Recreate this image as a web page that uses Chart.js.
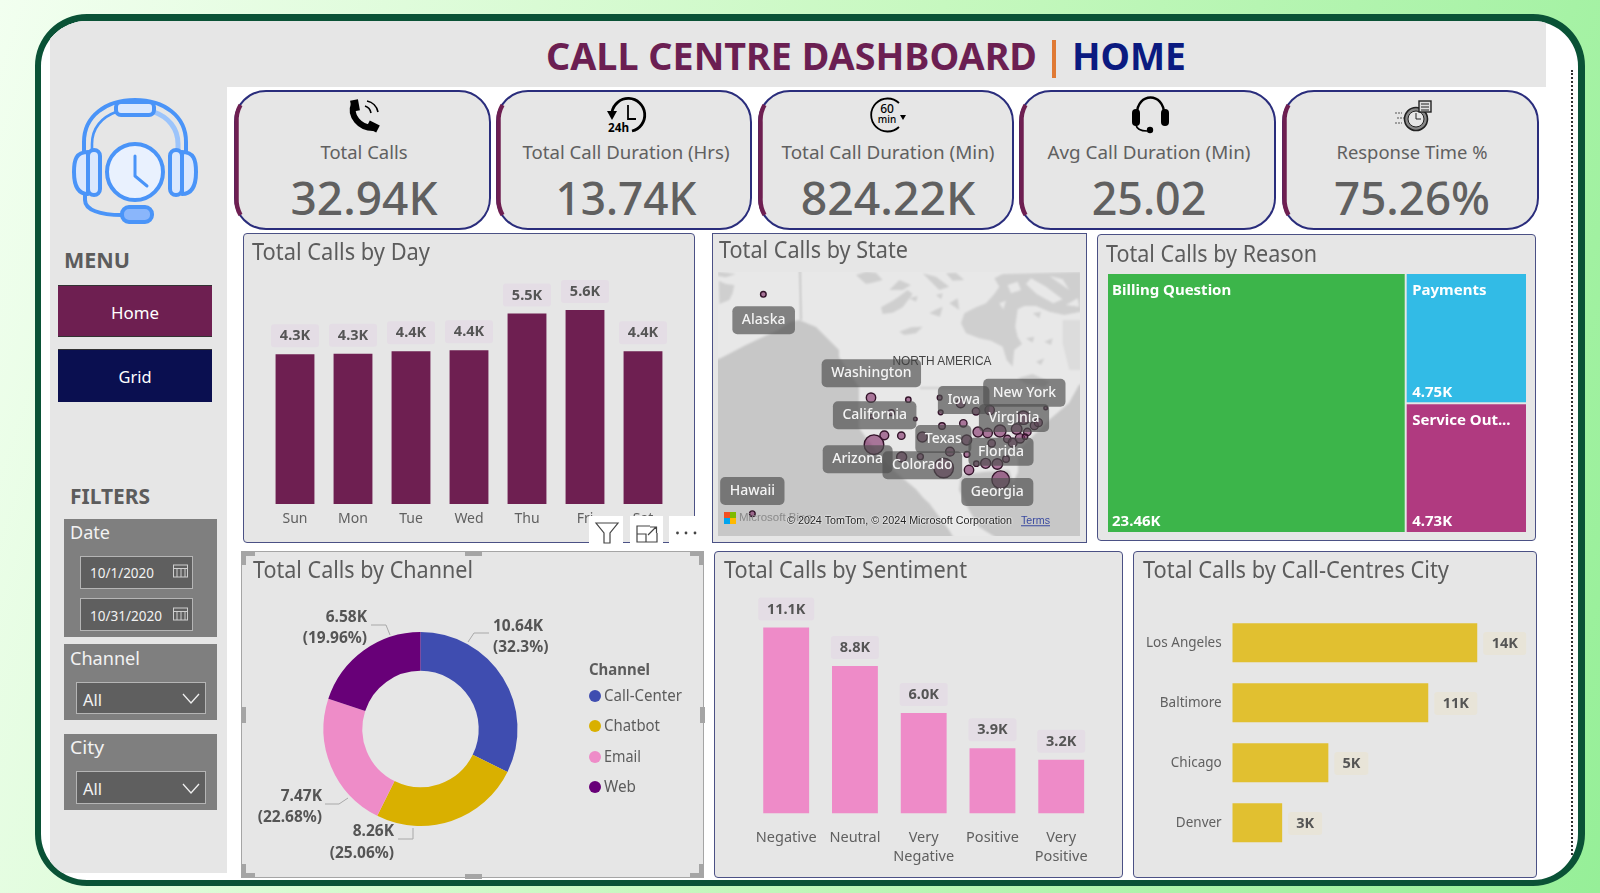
<!DOCTYPE html>
<html><head><meta charset="utf-8">
<script src="https://cdn.jsdelivr.net/npm/chart.js@4"></script>
<style>
html,body{margin:0;padding:0;width:1600px;height:893px;overflow:hidden}
body{background:linear-gradient(108deg,#f2fff0 0%,#c6f8bf 50%,#96ef98 100%);font-family:"Noto Sans",sans-serif}
#frame{position:absolute;left:35px;top:14px;width:1550px;height:872px;box-sizing:border-box;border:solid #0a5236;border-width:7px 7px 6px 6px;border-radius:52px;background:#fff;overflow:hidden}
#stage{position:absolute;left:-41px;top:-21px;width:1600px;height:893px}
.box{position:absolute;box-sizing:border-box}
.t{position:absolute;white-space:nowrap;line-height:1}
canvas{position:absolute}
svg{position:absolute;left:0;top:0}
</style></head><body>
<div id="frame"><div id="stage"></div></div>
<script>
/* ---------- data ---------- */
const kpiLabels=['Total Calls','Total Call Duration (Hrs)','Total Call Duration (Min)','Avg Call Duration (Min)','Response Time %'];
const kpiValues=['32.94K','13.74K','824.22K','25.02','75.26%'];
const dayCats=['Sun','Mon','Tue','Wed','Thu','Fri','Sat'];
const dayCalls=[4.32,4.34,4.41,4.44,5.5,5.6,4.41];
const reasonCats=['Billing Question','Payments','Service Out...'];
const reasonCalls=[23.46,4.75,4.73];
const channelCats=['Call-Center','Chatbot','Email','Web'];
const channelCalls=[10.64,8.26,7.47,6.58];
const channelShare=[32.3,25.06,22.68,19.96];
const sentimentCats=['Negative','Neutral','Very Negative','Positive','Very Positive'];
const sentimentCalls=[11.1,8.8,6.0,3.9,3.2];
const cityCats=['Los Angeles','Baltimore','Chicago','Denver'];
const cityCalls=[14.0,11.2,5.49,2.85];
/* map grid positions of the state bubbles and their sizes */
const bubbleX=[190,157,513,625,719,722,574,515,646,782,828,869,970,1037,1003,1015,790,726,553,604,667,522,800,834,863,900,950,982,922,875,938,960,975,750,801,605,661,731,918,829,857,892,807,902];
const bubbleY=[193,851,503,509,503,547,548,560,567,520,544,540,563,534,587,578,580,588,616,617,621,644,630,606,609,603,597,606,627,640,638,625,620,665,673,681,680,714,687,701,700,702,720,749];
const bubbleR=[2.8,2.8,4.7,2.7,2.4,2.4,3,2,1.8,4.4,3.7,4.7,6.7,1.8,4,4,3.7,3.3,4.4,3.7,5,9.8,5,5,4.7,6,5.3,3.7,3.7,3.7,4.4,4.7,2.7,4.4,3,5,3,9.8,3.3,2.7,5,5.3,4.7,8.8];
const stateNames=['Alaska','Washington','California','Iowa','New York','Virginia','Texas','Florida','Arizona','Colorado','Hawaii','Georgia'];
const stateX=[191,514,524,791,973,942,730,903,473,667,157,892];
const stateY=[271,430,556,510,488,564,627,665,688,706,783,786];

const FONT='"Noto Sans",sans-serif';
const TXT='#5c5c5c';
const stage=document.getElementById('stage');
Chart.defaults.font.family=FONT;
Chart.defaults.animation=false;
Chart.defaults.responsive=false;
Chart.defaults.plugins.legend.display=false;
Chart.defaults.plugins.tooltip.enabled=false;

function box(x,y,w,h,css){const d=document.createElement('div');d.className='box';
  d.style.cssText=`left:${x}px;top:${y}px;width:${w}px;height:${h}px;${css||''}`;stage.appendChild(d);return d}
function T(str,x,cy,size,o){o=o||{};const s=document.createElement('span');s.className='t';s.textContent=str;
  s.style.cssText=`left:${x}px;top:${cy-1.2}px;font-size:${size}px;font-weight:${o.weight||400};color:${o.color||TXT};font-family:${o.font||FONT};${o.css||''}`;
  stage.appendChild(s);
  const a=s.getBoundingClientRect().width,k=o.w?o.w/a:1,al=o.align||'l';
  s.style.transformOrigin=al=='c'?'center':'left center';
  s.style.transform=(al=='c'?'translate(-50%,-50%)':'translateY(-50%)')+` scaleX(${k})`;return s}
function svgLayer(inner){const n=document.createElementNS('http://www.w3.org/2000/svg','svg');n.setAttribute('width',1600);n.setAttribute('height',893);n.setAttribute('viewBox','0 0 1600 893');n.innerHTML=inner;stage.appendChild(n);return n}
function canvasAt(x,y,w,h){const c=document.createElement('canvas');c.width=w;c.height=h;c.style.left=x+'px';c.style.top=y+'px';c.style.width=w+'px';c.style.height=h+'px';stage.appendChild(c);return c}
function pill(ctx,cx,cy,w,h,fill,r){ctx.fillStyle=fill;ctx.beginPath();ctx.roundRect(cx-w/2,cy-h/2,w,h,r);ctx.fill()}

/* ---------- shell ---------- */
box(50,21,1496,66,'background:#e6e6e6');
box(50,21,177,852,'background:#e6e6e6');
const DOTS='border:0 dotted #333;';
box(45,20,1490,1,DOTS+'border-top-width:1.5px');
box(1571,70,1,785,DOTS+'border-left-width:2px');

T('CALL CENTRE DASHBOARD',546,56,38,{weight:700,color:'#6b1f52',w:491});
box(1052,40,4,38,'background:#e07a35');
T('HOME',1072,56,38,{weight:700,color:'#0b1a80',w:114});

/* KPI cards */
const cardX=[234,496,758,1019,1282],cardW=[257,256,256,257,257];
const kpiLabelW=[87,207,213,203,151],kpiValueW=[147,141,174.500,114.500,156];
let cardEdges='';
kpiLabels.forEach((l,i)=>{
  box(cardX[i],90,cardW[i],140,'background:#e6e6e6;border:2px solid #2a2d7c;border-radius:32px');
  const x=cardX[i];
  cardEdges+=`<path d="M${x+6.5} 105 A31 31 0 0 0 ${x+2.5} 122 V198 A31 31 0 0 0 ${x+6.5} 215" fill="none" stroke="#6e1f51" stroke-width="4.5"/>`;
  const c=x+cardW[i]/2+1.5;
  T(l,c,153,18,{align:'c',w:kpiLabelW[i],color:'#606060'});
  T(kpiValues[i],c,198,46,{align:'c',w:kpiValueW[i],color:'#606060',weight:500});
});
svgLayer(cardEdges);

/* sidebar */
T('MENU',64,260,22,{weight:700,w:66});
box(58,285,154,52,'background:#6e1f51;border-top:1px solid #333;border-bottom:1px solid #333');
T('Home',135,313,17,{align:'c',color:'#fff',w:48});
box(58,349,154,53,'background:#0a0f50;border-top:1px solid #333');
T('Grid',135,377,17,{align:'c',color:'#fff',w:33});
T('FILTERS',70,496,22,{weight:700,w:80});
const inp='background:#5f5f5f;border:1px solid #b5b5b5;';
box(64,519,153,118,'background:#7f7f7f');
T('Date',70,533.5,18,{color:'#f2f2f2',w:40});
box(80,556,113,33,inp);T('10/1/2020',89.5,573,14.5,{color:'#f2f2f2',w:64});
box(80,598,113,33,inp);T('10/31/2020',89.5,616,14.5,{color:'#f2f2f2',w:72});
box(64,644,153,76,'background:#7f7f7f');
T('Channel',70,659,18,{color:'#f2f2f2',w:70});
box(76,682,130,32,inp);T('All',83,701,16,{color:'#f2f2f2',w:19});
box(64,734,153,76,'background:#7f7f7f');
T('City',70,748,18,{color:'#f2f2f2',w:34});
box(76,771,130,33,inp);T('All',83,790,16,{color:'#f2f2f2',w:19});

/* panels */
const pane='background:#e6e6e6;border:1px solid #4b5185;border-radius:4px;';
box(243,233,452,310,pane);
box(712,233,375,310,pane+'border-radius:0');
box(1097,234,439,307,pane);
box(241,551,463,327,'background:#e6e6e6;');
box(714,551,409,327,pane);
box(1133,551,404,327,pane);

/* icons, logo, map background */
const ink='#000';
svgLayer(`
<!-- logo -->
<g fill="none" stroke="#4a94f8" stroke-width="4" stroke-linecap="round" stroke-linejoin="round">
<path d="M84 152 V142 C84 116 106 100 135 100 C164 100 186 116 186 142 V152"/>
<path d="M92 152 V144 C92 128 102 117 116 112" stroke-width="2.6"/>
<path d="M178 152 V144 C178 128 168 117 154 112" stroke="#9cc4fb" stroke-width="5"/>
<rect x="116" y="102" width="38" height="13" rx="5" fill="#dbe8fd"/>
<path d="M88 152 C76 152 74 160 74 172 C74 186 78 194 88 194 Z" fill="#dbe8fd"/>
<rect x="88" y="150" width="12" height="45" rx="6" fill="#dbe8fd"/>
<path d="M182 152 C194 152 196 160 196 172 C196 186 192 194 182 194 Z" fill="#dbe8fd"/>
<rect x="170" y="150" width="12" height="45" rx="6" fill="#dbe8fd"/>
<circle cx="135" cy="172" r="28" fill="#e9f1fe"/>
<path d="M135 156 V176 L147 186" stroke-width="3"/>
<path d="M85 195 V200 C85 210 100 215 122 215"/>
<rect x="122" y="207" width="30" height="15" rx="7" fill="#8ab6fb"/>
</g>
<!-- phone -->
<g fill="none" stroke="${ink}"><path d="M354 104 C349 116 360 128 373 128" stroke-width="6"/>
<path d="M354 100 L356 111 M368 124 L378 129" stroke-width="8"/>
<path d="M365 106 A9 9 0 0 1 371 113 M367 101 A14 14 0 0 1 378 112" stroke-width="1.6"/></g>
<!-- 24h -->
<g fill="none" stroke="${ink}"><path d="M612 112 A16.5 16.5 0 1 1 632 131" stroke-width="2.8"/><path d="M628 105 V119 H636" stroke-width="1.8"/></g>
<path d="M607 111 H617 L612 120 Z" fill="${ink}"/>
<text x="608" y="132" font-size="13" font-weight="700" font-family="Noto Sans" textLength="21" lengthAdjust="spacingAndGlyphs">24h</text>
<!-- 60 min -->
<path d="M899 103 A16.5 16.5 0 1 0 899 127" fill="none" stroke="${ink}" stroke-width="1.8"/><path d="M900 115 L906 115 L903 120 Z" fill="${ink}"/>
<text x="887" y="113" text-anchor="middle" font-size="12" font-family="Noto Sans" font-weight="500">60</text>
<text x="887" y="123" text-anchor="middle" font-size="10" font-family="Noto Sans" font-weight="500">min</text>
<!-- headset -->
<path d="M1137 114 C1137 92 1164 92 1164 114" fill="none" stroke="${ink}" stroke-width="2.4"/>
<rect x="1132" y="109" width="8" height="17" rx="4"/><rect x="1161" y="109" width="8" height="17" rx="4"/>
<path d="M1136 125 C1137 130 1141 131 1147 131" fill="none" stroke="${ink}" stroke-width="1.6"/><circle cx="1150" cy="130" r="3.2"/>
<!-- stopwatch -->
<circle cx="1416" cy="119" r="11.5" fill="#888" stroke="#222" stroke-width="1.6"/><circle cx="1416" cy="119" r="8" fill="#e6e6e6" stroke="#222"/>
<path d="M1416 113 V119 H1421" fill="none" stroke="#222"/>
<rect x="1419" y="101" width="12" height="11" fill="#ddd" stroke="#222" stroke-width="1.4"/><path d="M1421 104 H1429 M1421 107 H1429 M1421 110 H1429" stroke="#222"/>
<path d="M1395 113 H1402 M1397 118 H1404 M1395 123 H1402" stroke="#555" stroke-dasharray="2 1"/>
<!-- calendars -->
<g fill="none" stroke="#cfcfcf"><rect x="173.500" y="565" width="14" height="12"/><rect x="173.500" y="608" width="14" height="12"/>
<path d="M173 568.500 H188 M173 611.500 H188 M177 569 V577 M181 569 V577 M185 569 V577 M177 612 V620 M181 612 V620 M185 612 V620"/></g>
<g fill="none" stroke="#eee" stroke-width="1.3"><path d="M183 694 L191 703 L199 694 M183 784 L191 793 L199 784"/></g>
<!-- map -->
<defs><clipPath id="mc"><rect x="718" y="272" width="362" height="264"/></clipPath><filter id="bl" x="-5%" y="-5%" width="110%" height="110%"><feGaussianBlur stdDeviation="1"/></filter></defs>
<g clip-path="url(#mc)"><rect x="718" y="272" width="362" height="264" fill="#c7c7c7"/>
<g filter="url(#bl)">
<path fill="#e8e8e8" d="M710 264 H1090 V380 L1079 385 L1069 403 L1049 420 L1036 433 L1018 450 L1018 472 L1013 483 L1009 470 L983 472 L961 475 L959 490 L969 510 L979 527 L1000 540 H955 L949 530 L929 503 L906 483 L886 463 L873 447 L859 428 L859 387 L839 357 L839 350 L826 337 L816 327 L799 320 L790 322 L778 330 L763 337 L746 345 L721 358 L710 362 Z"/>
<g transform="translate(716,270) scale(.3333)" fill="#cfcfcf">
<path d="M735 160 L745 130 L780 112 L810 100 L835 72 L850 50 L835 25 L860 12 L1095 5 L1095 125 L1045 135 L1000 125 L960 108 L925 108 L905 118 L898 170 L905 200 L918 222 L895 240 L890 290 L872 270 L860 230 L825 212 L790 205 L750 190 Z"/>
<path d="M8 32 L30 42 L55 45 L50 70 L40 90 L10 102 Z M5 5 L60 12 L30 22 L5 18 Z"/>
<path d="M500 132 L530 128 L560 112 L590 72 L575 60 L548 80 L530 92 L495 112 Z M420 15 L450 5 L480 8 L500 30 L470 38 L450 42 Z M640 130 L662 118 L680 110 L672 140 Z M550 185 L585 172 L620 170 L600 190 L565 195 Z M620 10 L660 20 L700 50 L670 60 L640 30 Z M700 100 L725 85 L730 120 Z M520 60 L550 30 L585 45 L560 60 Z M580 85 L605 78 L600 95 Z M660 75 L680 70 L676 88 Z"/>
<path d="M905 325 L950 312 L1000 335 L985 352 L930 342 Z M690 10 L720 8 L745 30 L710 32 Z M950 130 L975 125 L970 145 Z M930 205 L955 200 L950 218 Z M985 215 L1010 205 L1005 225 Z M960 275 L985 265 L975 285 Z"/>
<path fill="#e8e8e8" d="M945 25 L990 50 L1040 88 L1012 100 L962 72 L930 42 Z M850 100 L870 92 L862 118 Z M960 8 L1000 18 L1060 60 L1040 28 Z M875 45 L905 35 L915 60 L885 70 Z M1050 105 L1085 85 L1090 110 Z"/>
<path fill="#dcdcdc" d="M1040 150 H1095 V300 L1060 300 L1040 220 Z"/>
</g>
<path d="M800 270 L801 320" stroke="#a8a8a8" fill="none"/>
<path d="M920 388 L982 388" stroke="#b5b5b5" fill="none"/>
<path d="M891 470 L915 490 L932 510" stroke="#c8c8c8" stroke-width="2.5" fill="none"/>
</g></g>
`);

/* ---------- Chart.js charts ---------- */
function pillLabels(fmt,fill,ph,off){return{id:'pills',afterDatasetsDraw(ch){const ctx=ch.ctx;ctx.save();
  ch.getDatasetMeta(0).data.forEach((el,i)=>{const v=ch.data.datasets[0].data[i],s=fmt(v);
    ctx.font=`700 14.5px ${FONT}`;ctx.textAlign='center';ctx.textBaseline='middle';
    let cx,cy,w;
    if(ch.options.indexAxis==='y'){w=s.length>2?43:34;cx=el.x+6+w/2;cy=el.y+.7}else{w=s.length>4?56:48;cx=el.x;cy=el.y-off}
    pill(ctx,cx,cy,w,ph,fill,3);
    ctx.fillStyle='#555';ctx.fillText(s,cx,cy+.5)});ctx.restore()}}}
function vBars(x,y,w,h,cats,vals,color,area,max,axisH,pct,tickPad,tickSize,tickCb){
  const ticks={color:'#606060',font:{size:tickSize,lineHeight:1.33},padding:tickPad,maxRotation:0,autoSkip:false};
  if(tickCb)ticks.callback=tickCb;
  new Chart(canvasAt(x,y,w,h),{type:'bar',
    data:{labels:cats,datasets:[{data:vals,backgroundColor:color,categoryPercentage:1,barPercentage:pct,borderWidth:0}]},
    options:{layout:{padding:{left:area[0]-x,right:x+w-area[1],top:area[2]-y,bottom:0}},
      scales:{y:{display:false,min:0,max},
        x:{grid:{display:false,drawTicks:false},border:{display:false},afterFit(s){s.height=axisH},ticks}}},
    plugins:[pillLabels(v=>v.toFixed(1)+'K','#e4dde5',23,18.5)]});
}
vBars(243,233,452,310,dayCats,dayCalls,'#6e1f51',[266,672,270],6.755,39,.67,5.6,14);

/* Map */
const mapCanvas=canvasAt(700,220,400,330);
new Chart(mapCanvas,{type:'bubble',
  data:{datasets:[{data:bubbleX.map((v,i)=>({x:v,y:bubbleY[i],r:bubbleR[i]})),backgroundColor:'rgba(125,40,100,.6)',borderColor:'#33142a',borderWidth:1.4}]},
  options:{layout:{padding:{left:18,right:20,top:52,bottom:14}},clip:false,
    scales:{x:{display:false,min:54,max:1140},y:{display:false,min:126,max:918,reverse:true}}},
  plugins:[{id:'states',afterDatasetsDraw(ch){const c=ch.ctx,sx=ch.scales.x,sy=ch.scales.y;c.save();
    c.font=`500 14px ${FONT}`;c.textAlign='center';c.textBaseline='middle';
    stateNames.forEach((n,i)=>{const px=sx.getPixelForValue(stateX[i]),py=sy.getPixelForValue(stateY[i]);
      const w=c.measureText(n).width+19;pill(c,px,py,w,28,'rgba(80,80,80,.68)',5);
      c.fillStyle='#f4f4f4';c.fillText(n,px,py)});c.restore()}}]});
T('NORTH AMERICA',941.7,362,12.5,{align:'c',w:99,color:'#444',font:'"Liberation Sans"'});
box(724,512,6,6,'background:#f25022');box(730,512,6,6,'background:#7fba00');box(724,518,6,6,'background:#00a4ef');box(730,518,6,6,'background:#ffb900');
T('Microsoft Bing',739,519,11.5,{color:'#8a8a8a',font:'"Liberation Sans"'});
T('© 2024 TomTom, © 2024 Microsoft Corporation',787,522,11.5,{w:225,color:'#222',font:'"Liberation Sans"',css:'text-shadow:0 0 2px #fff,0 0 2px #fff'});
T('Terms',1020.7,522,11.5,{w:29,color:'#3a4aa0',font:'"Liberation Sans"',css:'text-decoration:underline'});

/* Treemap from the reason values, through linear scales */
const reasonColors=['#3cb54a','#32bbe6','#b03a80'];
new Chart(canvasAt(1097,234,439,307),{type:'scatter',
  data:{datasets:[{data:[],pointRadius:0}]},
  options:{layout:{padding:{left:11,right:10,top:40,bottom:9}},
    scales:{x:{display:false,min:0,max:reasonCalls[0]+reasonCalls[1]+reasonCalls[2]},y:{display:false,min:0,max:reasonCalls[1]+reasonCalls[2]}}},
  plugins:[{id:'treemap',afterDatasetsDraw(ch){const c=ch.ctx,X=ch.scales.x,Y=ch.scales.y;c.save();
    const a=reasonCalls,tot=X.max,hh=Y.max;
    const cells=[[0,a[0],0,hh],[a[0],tot,a[2],hh],[a[0],tot,0,a[2]]];
    cells.forEach((q,i)=>{const l=X.getPixelForValue(q[0]),r=X.getPixelForValue(q[1]),t=Y.getPixelForValue(q[3]),b=Y.getPixelForValue(q[2]);
      const gl=i?1:0,gr=i?0:1,gt=i==2?1:0,gb=i==1?1:0,ins=i?5.5:4;
      c.fillStyle=reasonColors[i];c.fillRect(l+gl,t+gt,r-l-gl-gr,b-t-gt-gb);
      c.fillStyle='#fff';c.textBaseline='middle';c.textAlign='left';c.font=`700 15px ${FONT}`;
      c.fillText(reasonCats[i],l+ins+gl,t+gt+16.5);
      c.fillText(a[i].toFixed(2)+'K',l+ins+gl,b-gb-10);});
    c.restore()}}]});

/* Donut */
const channelColors=['#3f4db0','#d9b000','#ee8cc8','#680078'];
const calloutStyle=[
 {pts:[[468,642],[474,633],[489,633]],x:493,y:[627,647.5],al:'left'},
 {pts:[[413,828],[413,839],[398,839]],x:394,y:[832,854],al:'right'},
 {pts:[[348,798],[339,804],[325,804]],x:322,y:[796.5,817.5],al:'right'},
 {pts:[[390,635],[386,625],[371,625]],x:367,y:[618,638.5],al:'right'}];
new Chart(canvasAt(241,551,463,327),{type:'doughnut',
  data:{labels:channelCats,datasets:[{data:channelCalls,backgroundColor:channelColors,borderWidth:0}]},
  options:{cutout:'60%',layout:{padding:{left:82.5,right:186.5,top:81,bottom:52}}},
  plugins:[{id:'callouts',afterDatasetsDraw(ch){const c=ch.ctx;c.save();c.translate(-241,-551);
    calloutStyle.forEach((s,i)=>{c.strokeStyle='#a8a8a8';c.lineWidth=1;c.beginPath();s.pts.forEach((p,k)=>k?c.lineTo(p[0],p[1]):c.moveTo(p[0],p[1]));c.stroke();
      c.font=`700 15.5px ${FONT}`;c.fillStyle='#555';c.textAlign=s.al;c.textBaseline='middle';
      c.fillText(channelCalls[i].toFixed(2)+'K',s.x,s.y[0]);c.fillText('('+channelShare[i]+'%)',s.x,s.y[1]);});
    c.restore()}}]});
T('Channel',588.5,671.5,15.5,{weight:700,w:61});
const legY=[696,726,757,787],legW=[78,56,37,32];
channelCats.forEach((n,i)=>{box(589,legY[i]-6,12,12,`background:${channelColors[i]};border-radius:50%`);T(n,604,legY[i]+1.5,15.5,{w:legW[i]})});

/* Sentiment */
vBars(714,551,409,327,sentimentCats,sentimentCalls,'#ee8bc8',[751.8,1095.6,600],12.74,64.5,.667,14.4,14.5,
  function(v,i){return sentimentCats[i].split(' ')});

/* City */
new Chart(canvasAt(1133,551,404,327),{type:'bar',
  data:{labels:cityCats,datasets:[{data:cityCalls,backgroundColor:'#e1c030',categoryPercentage:1,barPercentage:.65,borderWidth:0}]},
  options:{indexAxis:'y',layout:{padding:{left:0,right:5,top:61.8,bottom:25.2}},
    scales:{x:{display:false,min:0,max:17.13},
      y:{grid:{display:false,drawTicks:false},border:{display:false},afterFit(s){s.width=99.3},ticks:{color:'#606060',font:{size:13.5},padding:10.6}}}},
  plugins:[pillLabels(v=>v.toFixed(0)+'K','#e8e4d8',23,0)]});

/* titles */
const titles=[['Total Calls by Day',252,252,178],['Total Calls by State',719,250,189],['Total Calls by Reason',1106,254,211],
 ['Total Calls by Channel',252.5,570,220],['Total Calls by Sentiment',723.5,570,243],['Total Calls by Call-Centres City',1143,570,306]];
titles.forEach(t=>T(t[0],t[1],t[2],23,{w:t[3],color:'#5c5c5c'}));

/* selection chrome on the channel visual */
const sel='#a5a5a5';
box(241,551,463,327,`border:1.5px solid ${sel}`);
[[241,551],[690,551],[241,864],[690,864]].forEach((p,i)=>{
  const vy=i<2?p[1]:p[1]+9;
  box(p[0],vy,14,5,`background:${sel}`);
  box(i%2?p[0]+9:p[0],p[1],5,14,`background:${sel}`);
});
box(465,551,17,5,`background:${sel}`);box(465,874,17,5,`background:${sel}`);
box(241,707,5,16,`background:${sel}`);box(700,707,5,16,`background:${sel}`);

/* visual header tabs */
box(589,516,34,28,'background:#fff');box(630,516,33,28,'background:#fff');box(669,516,35,28,'background:#fff');
svgLayer(`<g fill="none" stroke="#444" stroke-width="1.2"><path d="M596 523 H618 L610 533 V543 H604 V533 Z"/>
<path d="M637 534 V526 H650 M657 533 V542 H637 V534 H646 V542 M650 527 H656.500 V533 M656 527 L648 535"/></g>
<g fill="#444"><circle cx="677.500" cy="533" r="1.400"/><circle cx="686" cy="533" r="1.400"/><circle cx="695" cy="533" r="1.400"/></g>`);
</script>
</body></html>
